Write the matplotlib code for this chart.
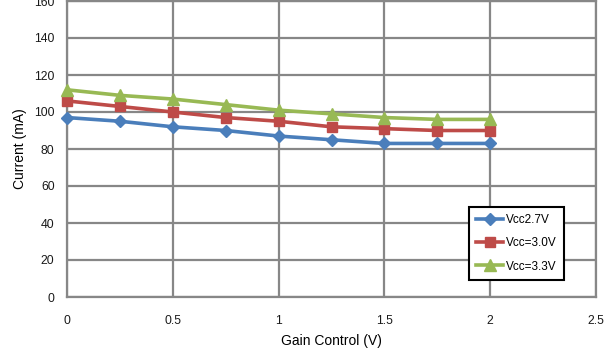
import matplotlib
matplotlib.use("Agg")
import matplotlib.pyplot as plt

gain = [0, 0.25, 0.5, 0.75, 1.0, 1.25, 1.5, 1.75, 2.0]
vcc27 = [97, 95, 92, 90, 87, 85, 83, 83, 83]
vcc30 = [106, 103, 100, 97, 95, 92, 91, 90, 90]
vcc33 = [112, 109, 107, 104, 101, 99, 97, 96, 96]

series = [
    (vcc27, "Vcc2.7V", "#4A7EBB", "D", 6),
    (vcc30, "Vcc=3.0V", "#BE4B48", "s", 7.5),
    (vcc33, "Vcc=3.3V", "#98B954", "^", 8),
]

plt.rcParams['font.family'] = ['Liberation Sans', 'DejaVu Sans']

fig = plt.figure(figsize=(6.08, 3.54), dpi=100)
ax = fig.add_axes([67 / 608, 1 - 297 / 354, (596 - 67) / 608, 296 / 354])

for vals, name, color, marker, ms in series:
    ax.plot(gain, vals, color=color, lw=2.6, marker=marker, markersize=ms,
            markeredgecolor=color, label=name, clip_on=False, zorder=3)

ax.set_xlim(0, 2.5)
ax.set_ylim(0, 160)
ax.set_xticks([0, 0.5, 1, 1.5, 2, 2.5])
ax.set_xticklabels(["0", "0.5", "1", "1.5", "2", "2.5"])
ax.set_yticks(range(0, 161, 20))
ax.grid(True, color="#878787", lw=1.6)
ax.set_axisbelow(True)
for s in ax.spines.values():
    s.set_color("#878787")
    s.set_linewidth(1.6)
ax.tick_params(axis="both", length=0, labelsize=8.8, colors="#1a1a1a")
ax.tick_params(axis="x", pad=13)
ax.tick_params(axis="y", pad=9)

ax.set_xlabel("Gain Control (V)", fontsize=10, labelpad=5)
ax.set_ylabel("Current (mA)", fontsize=10, labelpad=5)

leg = ax.legend(loc="upper left", bbox_to_anchor=(469 / 608, 1 - 207 / 354),
                bbox_transform=fig.transFigure, fontsize=8.5, frameon=True,
                fancybox=False, handlelength=2.3, handletextpad=0.25,
                labelspacing=0.95, borderpad=0.6, borderaxespad=0)
leg.get_frame().set_edgecolor("black")
leg.get_frame().set_linewidth(1.5)
leg.get_frame().set_alpha(1)

fig.savefig("out.png", dpi=100)
